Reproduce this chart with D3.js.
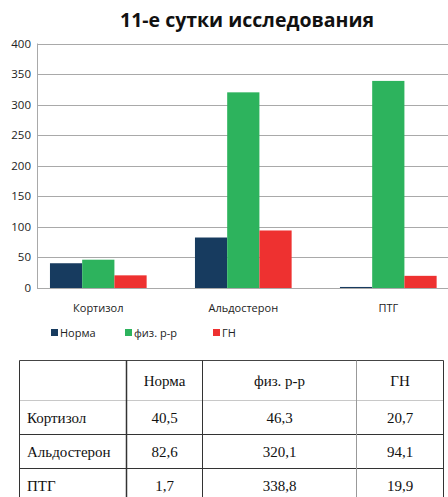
<!DOCTYPE html>
<html>
<head>
<meta charset="utf-8">
<script src="https://cdn.jsdelivr.net/npm/d3@7"></script>
<style>
body { margin: 0; background: #fff; }
svg { display: block; }
</style>
</head>
<body>
<div id="chart"></div>
<script>
const categories = ["Кортизол", "Альдостерон", "ПТГ"];
const series = ["Норма", "физ. р-р", "ГН"];
const norma = [40.5, 82.6, 1.7];
const fiz = [46.3, 320.1, 338.8];
const gn = [20.7, 94.1, 19.9];
const yTicks = [0, 50, 100, 150, 200, 250, 300, 350, 400];
const colors = ["#173b5f", "#2db35d", "#ee3130"];

const width = 448, height = 497;
const values = [norma, fiz, gn];

let svg = d3.select("#chart")
    .append("svg")
    .attr("width", width)
    .attr("height", height);

// title
svg.append("text")
    .attr("x", 247)
    .attr("y", 27)
    .attr("text-anchor", "middle")
    .style("font-family", "Open Sans")
    .style("font-weight", "bold")
    .style("font-size", "19.5px")
    .style("fill", "#111")
    .text("11-е сутки исследования");

let y = d3.scaleLinear().domain([0, 400]).range([288, 43.5]);
let x0 = d3.scaleBand().domain(categories).range([25.8, 460.8])
    .paddingInner(1 / 3).paddingOuter(1 / 6);
let x1 = d3.scaleBand().domain(series).range([0, x0.bandwidth()]);

// gridlines
svg.append("g")
    .selectAll("line")
    .data(yTicks)
    .enter()
    .append("line")
    .attr("x1", 37)
    .attr("x2", width)
    .attr("y1", d => Math.round(y(d)) + 0.5)
    .attr("y2", d => Math.round(y(d)) + 0.5)
    .attr("stroke", "#a9a9a9")
    .attr("stroke-width", 1);

// y axis line
svg.append("line")
    .attr("x1", 37.5).attr("x2", 37.5)
    .attr("y1", y(400)).attr("y2", y(0))
    .attr("stroke", "#a9a9a9");

// y labels
svg.append("g")
    .selectAll("text")
    .data(yTicks)
    .enter()
    .append("text")
    .attr("x", 31)
    .attr("y", d => y(d) + 4)
    .attr("text-anchor", "end")
    .style("font-family", "Open Sans")
    .style("font-size", "11.5px")
    .style("fill", "#222")
    .text(d => d);

// bars
let groups = svg.append("g")
    .selectAll("g")
    .data(categories)
    .enter()
    .append("g")
    .attr("transform", d => `translate(${x0(d)},0)`);

groups.selectAll("rect")
    .data((d, i) => series.map((s, j) => ({ s: s, v: values[j][i], j: j })))
    .enter()
    .append("rect")
    .attr("x", d => x1(d.s))
    .attr("width", x1.bandwidth())
    .attr("y", d => y(d.v))
    .attr("height", d => y(0) - y(d.v))
    .attr("fill", d => colors[d.j]);

// category labels
svg.append("g")
    .selectAll("text")
    .data(categories)
    .enter()
    .append("text")
    .attr("x", d => x0(d) + x0.bandwidth() / 2)
    .attr("y", 312)
    .attr("text-anchor", "middle")
    .style("font-family", "Open Sans")
    .style("font-size", "11px")
    .style("fill", "#222")
    .text(d => d);

// legend
const legendX = [51, 125, 213];
let legend = svg.append("g")
    .selectAll("g")
    .data(series)
    .enter()
    .append("g")
    .attr("transform", (d, i) => `translate(${legendX[i]},329)`);

legend.append("rect")
    .attr("width", 7)
    .attr("height", 7)
    .attr("fill", (d, i) => colors[i]);

legend.append("text")
    .attr("x", 9)
    .attr("y", 8)
    .style("font-family", "Open Sans")
    .style("font-size", "11px")
    .style("fill", "#222")
    .text(d => d);

// table
const colX = [19.5, 126.5, 202.5, 356.5, 443.5];
const rowY = [360.5, 400.5, 434.5, 468.5, 503];
let table = svg.append("g");

table.append("line")
    .attr("x1", colX[0]).attr("x2", colX[4])
    .attr("y1", rowY[0]).attr("y2", rowY[0])
    .attr("stroke", "#444");
table.append("line")
    .attr("x1", colX[0]).attr("x2", colX[4])
    .attr("y1", rowY[1]).attr("y2", rowY[1])
    .attr("stroke", "#c8c8c8");
table.selectAll("line.row")
    .data(rowY.slice(2, 4))
    .enter()
    .append("line")
    .attr("class", "row")
    .attr("x1", colX[0]).attr("x2", colX[4])
    .attr("y1", d => d).attr("y2", d => d)
    .attr("stroke", "#333");
table.selectAll("line.col")
    .data(colX)
    .enter()
    .append("line")
    .attr("class", "col")
    .attr("x1", d => d).attr("x2", d => d)
    .attr("y1", rowY[0]).attr("y2", height)
    .attr("stroke", (d, i) => i === 3 ? "#999" : "#333")
    .attr("stroke-width", (d, i) => i === 1 ? 1.5 : 1);

const textStyle = sel => sel
    .style("font-family", "Liberation Serif")
    .style("font-size", "15px")
    .style("fill", "#111");

// header
table.append("g")
    .selectAll("text")
    .data(series)
    .enter()
    .append("text")
    .attr("x", (d, i) => (colX[i + 1] + colX[i + 2]) / 2)
    .attr("y", 386)
    .attr("text-anchor", "middle")
    .call(textStyle)
    .text(d => d);

// rows
categories.forEach((c, i) => {
    let cy = (rowY[i + 1] + rowY[i + 2]) / 2 + 5;
    table.append("text")
        .attr("x", 27)
        .attr("y", cy)
        .call(textStyle)
        .text(c);
    table.append("g")
        .selectAll("text")
        .data(values.map(v => v[i]))
        .enter()
        .append("text")
        .attr("x", (d, j) => (colX[j + 1] + colX[j + 2]) / 2)
        .attr("y", cy)
        .attr("text-anchor", "middle")
        .call(textStyle)
        .text(d => String(d).replace(".", ","));
});
</script>
</body>
</html>
